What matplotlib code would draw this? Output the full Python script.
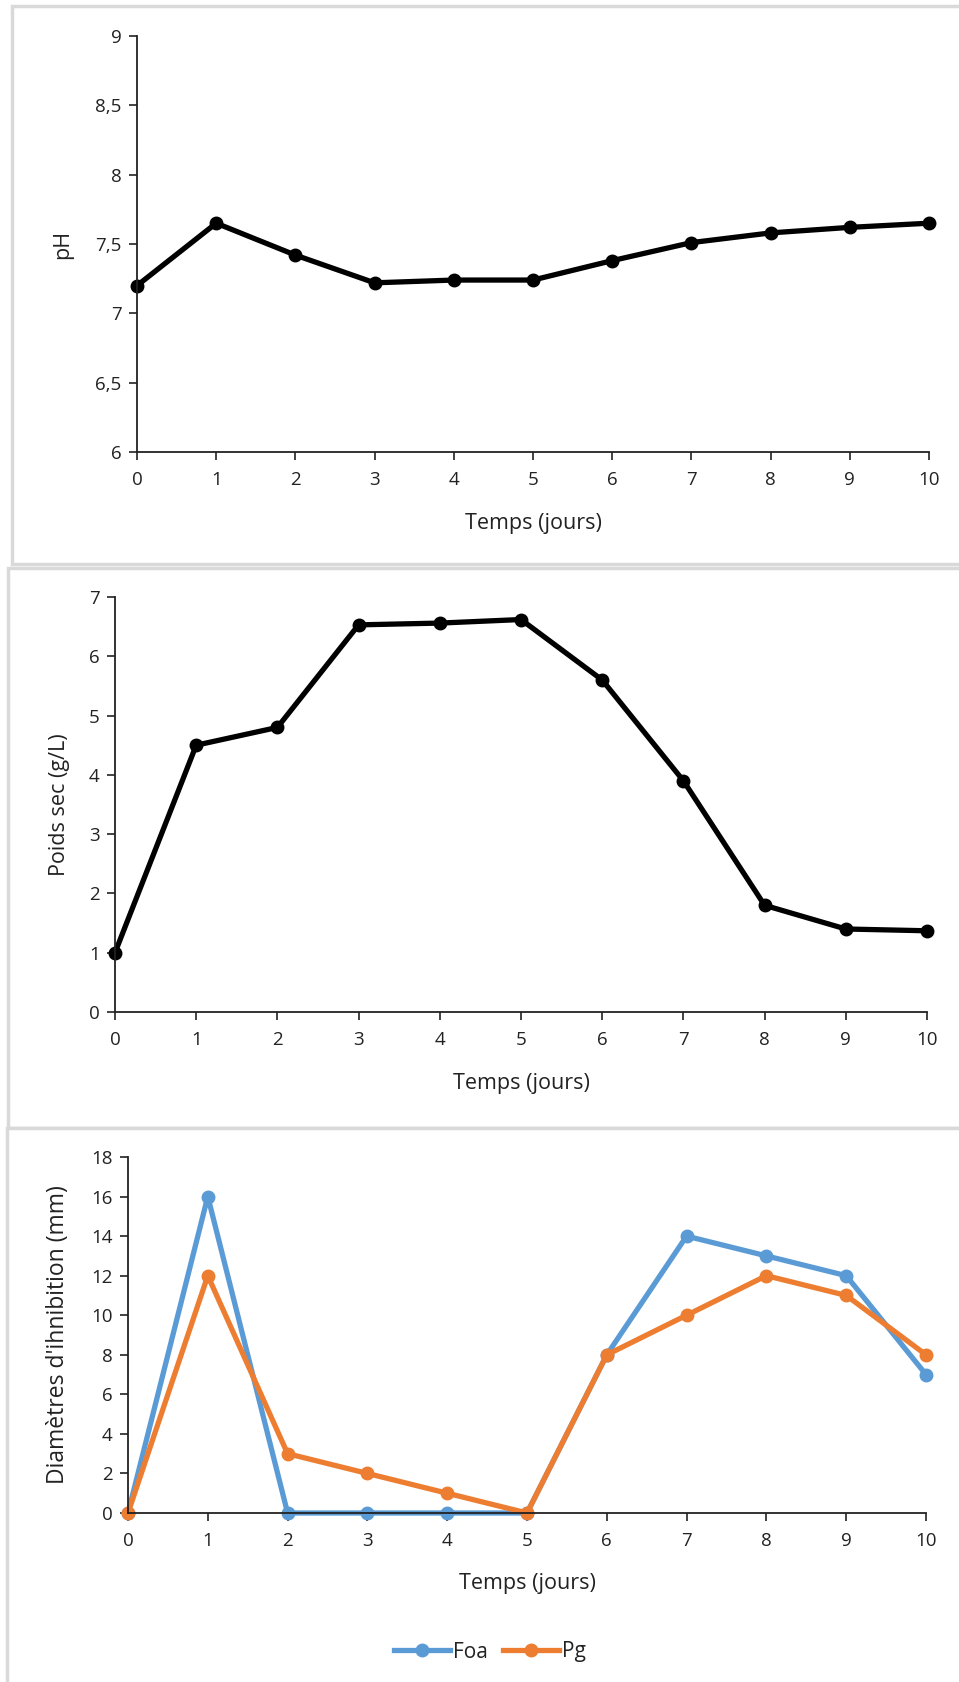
import matplotlib.pyplot as plt
from matplotlib.patches import Rectangle
from matplotlib.lines import Line2D

# data
jours = [0, 1, 2, 3, 4, 5, 6, 7, 8, 9, 10]
ph = [7.2, 7.65, 7.42, 7.22, 7.24, 7.24, 7.38, 7.51, 7.58, 7.62, 7.65]
poids_sec = [1.0, 4.5, 4.8, 6.53, 6.56, 6.62, 5.6, 3.9, 1.8, 1.4, 1.37]
foa = [0, 16, 0, 0, 0, 0, 8, 14, 13, 12, 7]
pg = [0, 12, 3, 2, 1, 0, 8, 10, 12, 11, 8]

ph_ticks = [6, 6.5, 7, 7.5, 8, 8.5, 9]
ph_ticklabels = ["6", "6,5", "7", "7,5", "8", "8,5", "9"]
poids_ticks = [0, 1, 2, 3, 4, 5, 6, 7]
diam_ticks = [0, 2, 4, 6, 8, 10, 12, 14, 16, 18]

W, H = 959, 1682
plt.rcParams['font.family'] = ['Open Sans', 'DejaVu Sans']

fig = plt.figure(figsize=(W / 100, H / 100), dpi=100)
fig.patch.set_facecolor('white')

# light grey frames around each chart (pixel coords: x0, y0 top, y1 bottom)
frames = [(12, 6, 564), (8, 568, 1128), (7, 1128, 1690)]
for x0, y0, y1 in frames:
    fig.add_artist(Rectangle((x0 / W, 1 - y1 / H), (W + 10 - x0) / W, (y1 - y0) / H,
                             transform=fig.transFigure, facecolor='white',
                             edgecolor='#d9d9d9', lw=2.5, zorder=0))


def make_ax(left, right, top, bottom, ylabel_x):
    ax = fig.add_axes([left / W, 1 - bottom / H, (right - left) / W, (bottom - top) / H])
    ax.set_facecolor('none')
    for s in ['top', 'right']:
        ax.spines[s].set_visible(False)
    for s in ['left', 'bottom']:
        ax.spines[s].set_linewidth(1.3)
        ax.spines[s].set_color('#222222')
    ax.tick_params(direction='out', length=6, width=1.2, color='#222222',
                   labelsize=13.5, labelcolor='#222222')
    ax.tick_params(axis='x', pad=8)
    ax.tick_params(axis='y', pad=5)
    ax.set_xlim(0, 10)
    ax.set_xticks(jours)
    ax.set_xlabel("Temps (jours)", fontsize=15.5, color='#222222')
    # label centres placed in pixels
    ax.xaxis.set_label_coords(0.5, -71 / (bottom - top))
    ax.xaxis.label.set_va('center')
    ax.yaxis.set_label_coords((ylabel_x - left) / (right - left), 0.5)
    return ax


def finish_ylabel(ax, text, size=15.5):
    ax.set_ylabel(text, fontsize=size, color='#222222', va='center', ha='center')


# pH
ax1 = make_ax(137, 929, 36, 452, 63)
ax1.plot(jours, ph, color='black', lw=3.8, marker='o', ms=9, clip_on=False)
ax1.set_ylim(6, 9)
ax1.set_yticks(ph_ticks)
ax1.set_yticklabels(ph_ticklabels)
finish_ylabel(ax1, "pH")

# poids sec
ax2 = make_ax(115, 927, 597, 1012, 59)
ax2.plot(jours, poids_sec, color='black', lw=3.8, marker='o', ms=9, clip_on=False)
ax2.set_ylim(0, 7)
ax2.set_yticks(poids_ticks)
finish_ylabel(ax2, "Poids sec (g/L)")

# diametres d'inhibition
ax3 = make_ax(128, 926, 1157, 1513, 58)
ax3.plot(jours, foa, color='#5b9bd5', lw=3.8, marker='o', ms=9, clip_on=False, label='Foa')
ax3.plot(jours, pg, color='#ed7d31', lw=3.8, marker='o', ms=9, clip_on=False, label='Pg')
ax3.set_ylim(0, 18)
ax3.set_yticks(diam_ticks)
finish_ylabel(ax3, "Diamètres d'ihnibition (mm)", size=16.5)

handles = [Line2D([], [], color='#5b9bd5', lw=3.8, marker='o', ms=9),
           Line2D([], [], color='#ed7d31', lw=3.8, marker='o', ms=9)]
fig.legend(handles, ['Foa', 'Pg'], loc='center', bbox_to_anchor=(490 / W, 1 - 1652 / H),
           ncol=2, frameon=False, fontsize=15, handlelength=2.7, handletextpad=0.15,
           columnspacing=0.7, labelcolor='#222222')

fig.savefig('out.png', dpi=100)
